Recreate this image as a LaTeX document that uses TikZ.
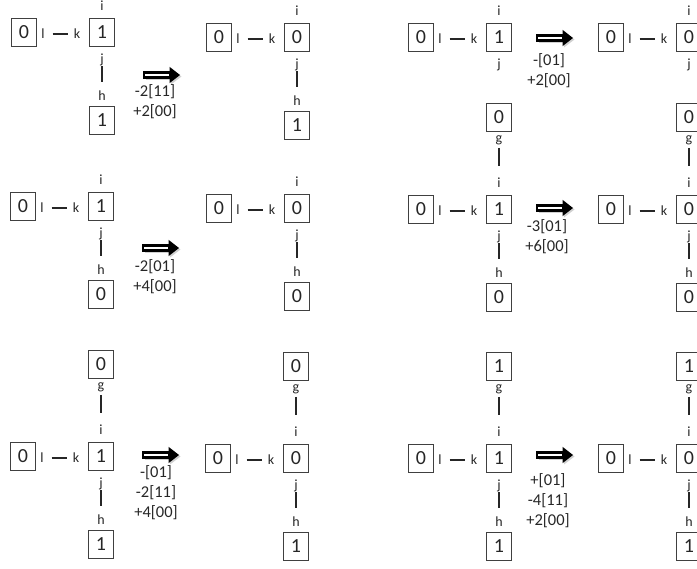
\documentclass[tikz,border=0pt]{standalone}
\usepackage{fontspec}
\setmainfont{Carlito}
\tikzset{
  cell/.style={draw=black!75, line width=0.9pt, minimum width=25pt, minimum height=28pt,
               inner sep=0pt, text=black!85, font=\fontsize{20}{20}\selectfont},
  lab/.style={inner sep=0pt, text=black!85, font=\fontsize{14}{14}\selectfont},
  hbond/.style={line width=2pt, draw=black!85, shorten <=9.5pt, shorten >=9.5pt},
  botbond/.style={line width=2.2pt, draw=black!85, shorten <=6pt, shorten >=14pt},
  topbond/.style={line width=2.2pt, draw=black!85, shorten <=8pt, shorten >=17pt},
  coef/.style={align=center, inner sep=0pt, text=black!85, font=\fontsize{16.5}{20}\selectfont},
  bigarrow/.pic={
    \fill[black!18] (1.5,-2.5) rectangle (28.5,5.5);
    \fill[black!18] (27,-6.5) -- (37.5,1.5) -- (27,9.5) -- cycle;
    \draw[line width=2.8pt, fill=white] (0,-2.5) rectangle (26.5,2.5);
    \fill (25.5,-8.2) -- (36,0) -- (25.5,8.2) -- cycle;
  }
}
\newcommand{\coreconf}[5]{%
  \begin{scope}[shift={(#2,#3)}]
    \node[cell] (#1c) at (0,0) {#5};
    \node[cell] (#1L) at (-78,0) {#4};
    \node[lab] (#1l) at (-59,2) {l};
    \node[lab] (#1k) at (-25,2) {k};
    \draw[hbond] (#1l.center) -- (#1k.center);
    \node[lab] (#1i) at (0,-26) {i};
    \node[lab] (#1j) at (0,28) {j};
  \end{scope}}
\newcommand{\botnb}[4]{%
  \begin{scope}[shift={(#2,#3)}]
    \node[lab] (#1h) at (0,64) {h};
    \node[cell] (#1b) at (0,88) {#4};
    \draw[botbond] (#1j.center) -- (#1h.center);
  \end{scope}}
\newcommand{\topnb}[4]{%
  \begin{scope}[shift={(#2,#3)}]
    \node[lab] (#1g) at (0,-69) {g};
    \node[cell] (#1t) at (0,-92) {#4};
    \draw[topbond] (#1g.center) -- (#1i.center);
  \end{scope}}
\begin{document}
\begin{tikzpicture}[x=1pt,y=-1pt]
\useasboundingbox (0,0) rectangle (697,569);
% top-left
\coreconf{A}{102}{32}{0}{1}\botnb{A}{102}{32}{1}
\pic at (144,75) {bigarrow};
\node[coef] (tA) at (155,102) {-2[11]\\+2[00]};
\coreconf{Ap}{297}{37}{0}{0}\botnb{Ap}{297}{37}{1}
% top-right
\coreconf{B}{499}{37}{0}{1}
\pic at (537,38) {bigarrow};
\node[coef] (tB) at (549,71) {-[01]\\+2[00]};
\coreconf{Bp}{689}{37}{0}{0}
% middle-left
\coreconf{F}{101}{206}{0}{1}\botnb{F}{101}{206}{0}
\pic at (143,248) {bigarrow};
\node[coef] (tF) at (155,277) {-2[01]\\+4[00]};
\coreconf{Fp}{297}{208}{0}{0}\botnb{Fp}{297}{208}{0}
% middle-right
\coreconf{C}{499}{209}{0}{1}\topnb{C}{499}{209}{0}\botnb{C}{499}{209}{0}
\pic at (537,208) {bigarrow};
\node[coef] (tC) at (547,237) {-3[01]\\+6[00]};
\coreconf{Cp}{689}{209}{0}{0}\topnb{Cp}{689}{209}{0}\botnb{Cp}{689}{209}{0}
% bottom-left
\coreconf{D}{101}{456}{0}{1}\topnb{D}{101}{456}{0}\botnb{D}{101}{456}{1}
\pic at (143,455) {bigarrow};
\node[coef] (tD) at (156,492.5) {-[01]\\-2[11]\\+4[00]};
\coreconf{Dp}{296}{458}{0}{0}\topnb{Dp}{296}{458}{0}\botnb{Dp}{296}{458}{1}
% bottom-right
\coreconf{E}{499}{458}{0}{1}\topnb{E}{499}{458}{1}\botnb{E}{499}{458}{1}
\pic at (537,455) {bigarrow};
\node[coef] (tE) at (548,500.5) {+[01]\\-4[11]\\+2[00]};
\coreconf{Ep}{689}{458}{0}{0}\topnb{Ep}{689}{458}{1}\botnb{Ep}{689}{458}{1}
\end{tikzpicture}
\end{document}
